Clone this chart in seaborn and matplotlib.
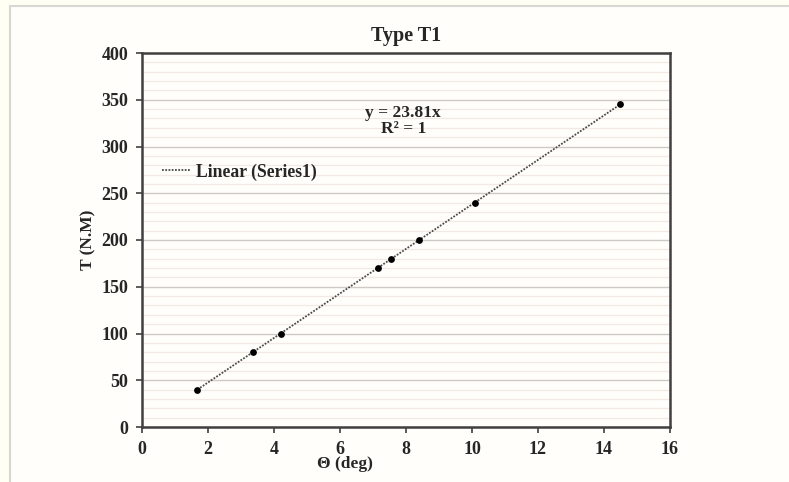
import matplotlib.pyplot as plt
import seaborn as sns
import pandas as pd
import numpy as np
from matplotlib.patches import Rectangle
from matplotlib.ticker import MultipleLocator

# data
theta_deg = [1.68, 3.36, 4.20, 7.14, 7.56, 8.40, 10.08, 14.49]
torque_nm = [40, 80, 100, 170, 180, 200, 240, 345]
x_ticks = [0, 2, 4, 6, 8, 10, 12, 14, 16]
y_ticks = [0, 50, 100, 150, 200, 250, 300, 350, 400]

title = 'Type T1'
x_label = 'Θ (deg)'
y_label = 'T (N.M)'
legend_label = 'Linear (Series1)'

df = pd.DataFrame({'theta': theta_deg, 'torque': torque_nm})

# linear trend through origin (least squares), drawn over the data range
slope = (df.theta * df.torque).sum() / (df.theta ** 2).sum()
trend = pd.DataFrame({'theta': [df.theta.min(), df.theta.max()]})
trend['torque'] = slope * trend.theta

sns.set_style('white')
plt.rcParams['font.family'] = ['Liberation Serif', 'DejaVu Serif']
plt.rcParams['font.weight'] = 'bold'

bg = '#fffefa'
fig = plt.figure(figsize=(7.89, 4.82), dpi=100, facecolor='#fffff4')
frame = Rectangle((10 / 789, -0.1), 1.2, 1.1 - 6 / 482, transform=fig.transFigure,
                  facecolor=bg, edgecolor='#d8d8d2', linewidth=1.5, zorder=-5)
fig.add_artist(frame)
ax = fig.add_axes([142 / 789, 55 / 482, 528 / 789, 374 / 482])
ax.set_facecolor(bg)

sns.lineplot(data=trend, x='theta', y='torque', ax=ax, color='#4a4a4a',
             linestyle=(0, (1, 0.8)), linewidth=1.3, label=legend_label, zorder=3)
sns.scatterplot(data=df, x='theta', y='torque', ax=ax, color='black', s=24,
                edgecolor='black', linewidth=0, zorder=4, legend=False)

ax.set_xlim(0, 16)
ax.set_ylim(0, 400)
ax.set_xticks(x_ticks)
ax.set_yticks(y_ticks)
ax.yaxis.set_minor_locator(MultipleLocator(10))
ax.grid(axis='y', which='major', color='#cfcac4', linewidth=1.0, zorder=0)
ax.grid(axis='y', which='minor', color='#f3e9e3', linewidth=0.9, zorder=0)
ax.grid(axis='x', which='both', visible=False)
ax.set_axisbelow(True)

for s in ax.spines.values():
    s.set_visible(True)
    s.set_color('#404040')
    s.set_linewidth(1.8)

ax.tick_params(axis='both', which='major', direction='out', length=4, width=1.2,
               color='#404040', labelsize=13, pad=6, bottom=True, left=True)
ax.tick_params(axis='y', which='minor', length=0)
for lab in ax.get_xticklabels() + ax.get_yticklabels():
    lab.set_fontweight('bold')

ax.set_title(title, fontsize=14.5, fontweight='bold', pad=9)
ax.set_xlabel(x_label, fontsize=12.5, fontweight='bold')
ax.set_ylabel(y_label, fontsize=12.5, fontweight='bold')
ax.xaxis.set_label_coords(0.385, -0.077)
ax.yaxis.set_label_coords(-0.087, 0.5)

ax.text(0.495, 0.84, f'y = {slope:.2f}x', transform=ax.transAxes, ha='center',
        va='center', fontsize=12.5, fontweight='bold')
ax.text(0.495, 0.797, 'R² = 1', transform=ax.transAxes, ha='center',
        va='center', fontsize=12.5, fontweight='bold')

ax.legend(loc='center left', bbox_to_anchor=(0.038, 0.682), frameon=False,
          borderpad=0, borderaxespad=0, handlelength=1.65, handletextpad=0.25,
          prop={'size': 12.7, 'weight': 'bold'})

plt.savefig('out.png', dpi=100, facecolor=fig.get_facecolor())
